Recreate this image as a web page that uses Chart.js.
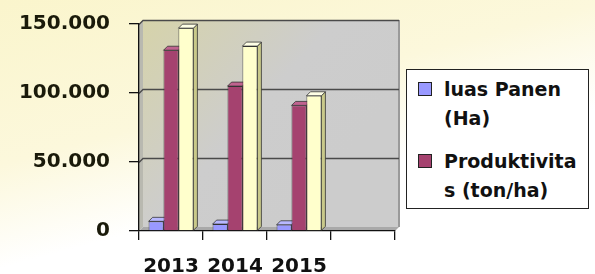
<!DOCTYPE html>
<html>
<head>
<meta charset="utf-8">
<script src="https://cdn.jsdelivr.net/npm/chart.js@4"></script>
<style>
  html, body { margin: 0; padding: 0; }
  body {
    width: 595px; height: 274px; position: relative; overflow: hidden;
    background: linear-gradient(165deg, #faf5cc 0%, #fcf8dc 38%, #ffffff 62%);
    font-family: "DejaVu Sans", sans-serif;
  }
  #wrap { position: absolute; left: 0; top: 0; width: 595px; height: 274px; }
  #legend {
    position: absolute; left: 406px; top: 69px; width: 181px; height: 138px;
    border: 1px solid #222; background: #fff;
  }
  .item { position: absolute; left: 11px; font-weight: bold; font-size: 19px; line-height: 29px; color: #111; }
  .item span.box {
    position: absolute; left: 0; top: 7px; width: 12px; height: 12px; border: 1px solid #222;
  }
  .item div { margin-left: 26px; }
</style>
</head>
<body>
<div id="wrap"><canvas id="c" width="595" height="274"></canvas></div>
<div id="legend"></div>
<script>
/* ----- data ----- */
const years = ['2013', '2014', '2015', ''];
const luasPanen = [7000, 5000, 4500, null];
const produktivitas = [131000, 105000, 91000, null];
const produksi = [147000, 134000, 98000, null];
const yTicks = [0, 50000, 100000, 150000];

const seriesNames = ['luas Panen', 'Produktivitas', 'Produksi'];
const legendLines = [['luas Panen', '(Ha)'], ['Produktivita', 's (ton/ha)']];
const colors = ['#9999ff', '#a5426f', '#ffffcc'];
const sideColors = ['#6b6bc0', '#6e2148', '#c9c98a'];
const topColors = ['#b8b8ff', '#c0638f', '#ffffe6'];

const depth = 4;

/* ----- 3D walls, grid and bar sides ----- */
const box3d = {
  id: 'box3d',
  beforeDraw(chart) {
    const { ctx, chartArea: a } = chart;
    const y = chart.scales.y;
    ctx.save();
    // back wall
    const g = ctx.createLinearGradient(a.left, a.top, a.left + 180, a.top + 160);
    g.addColorStop(0, '#d6d3aa');
    g.addColorStop(0.6, '#cdcdcd');
    g.addColorStop(1, '#cccccc');
    ctx.fillStyle = g;
    ctx.fillRect(a.left + depth, a.top - depth, a.right - a.left, a.bottom - a.top);
    // left side wall
    ctx.fillStyle = '#b9b9b0';
    ctx.beginPath();
    ctx.moveTo(a.left, a.top); ctx.lineTo(a.left + depth, a.top - depth);
    ctx.lineTo(a.left + depth, a.bottom - depth); ctx.lineTo(a.left, a.bottom);
    ctx.closePath(); ctx.fill();
    // floor
    ctx.fillStyle = '#a9a9a9';
    ctx.beginPath();
    ctx.moveTo(a.left, a.bottom); ctx.lineTo(a.left + depth, a.bottom - depth);
    ctx.lineTo(a.right + depth, a.bottom - depth); ctx.lineTo(a.right, a.bottom);
    ctx.closePath(); ctx.fill();
    // right edge shadow
    ctx.fillStyle = '#9a9a9a';
    ctx.fillRect(a.right + depth - 1, a.top - depth, 2, a.bottom - a.top);
    // grid lines on the wall
    ctx.strokeStyle = '#4a4a4a';
    ctx.lineWidth = 1.3;
    yTicks.forEach(v => {
      if (v === 0) return;
      const py = Math.round(y.getPixelForValue(v)) + 0.5;
      ctx.beginPath();
      ctx.moveTo(a.left, py);
      ctx.lineTo(a.left + depth, py - depth);
      ctx.lineTo(a.right + depth, py - depth);
      ctx.stroke();
    });
    ctx.restore();
  },
  beforeDatasetsDraw(chart) {
    const ctx = chart.ctx;
    ctx.save();
    ctx.lineWidth = 0.8;
    ctx.strokeStyle = '#333';
    chart.data.datasets.forEach((ds, i) => {
      chart.getDatasetMeta(i).data.forEach((bar, j) => {
        if (ds.data[j] == null) return;
        const { x, y, width, base } = bar.getProps(['x', 'y', 'width', 'base'], true);
        const l = x - width / 2, r = x + width / 2;
        ctx.fillStyle = sideColors[i];
        ctx.beginPath();
        ctx.moveTo(r, y); ctx.lineTo(r + depth, y - depth);
        ctx.lineTo(r + depth, base - depth); ctx.lineTo(r, base);
        ctx.closePath(); ctx.fill(); ctx.stroke();
        ctx.fillStyle = topColors[i];
        ctx.beginPath();
        ctx.moveTo(l, y); ctx.lineTo(l + depth, y - depth);
        ctx.lineTo(r + depth, y - depth); ctx.lineTo(r, y);
        ctx.closePath(); ctx.fill(); ctx.stroke();
      });
    });
    ctx.restore();
  }
};

new Chart(document.getElementById('c'), {
  type: 'bar',
  data: {
    labels: years,
    datasets: [luasPanen, produktivitas, produksi].map((d, i) => ({
      label: seriesNames[i],
      data: d,
      backgroundColor: colors[i],
      borderColor: '#333',
      borderWidth: 0.8,
      categoryPercentage: 0.7,
      barPercentage: 1
    }))
  },
  options: {
    responsive: false,
    animation: false,
    layout: { padding: { left: 0, right: 200, top: 24, bottom: 0 } },
    plugins: { legend: { display: false }, tooltip: { enabled: false } },
    scales: {
      x: {
        afterFit: s => { s.height = 43; },
        grid: { offset: true, drawOnChartArea: false, color: '#111', tickLength: 9, lineWidth: 1.3 },
        border: { color: '#111', width: 1.3 },
        ticks: { color: '#111', padding: 15, font: { family: 'DejaVu Sans', size: 20, weight: 'bold' } }
      },
      y: {
        min: 0, max: 150000,
        afterFit: s => { s.width = 139; s.paddingTop = 0; s.paddingBottom = 0; },
        afterBuildTicks: s => { s.ticks = yTicks.map(v => ({ value: v })); },
        grid: { drawOnChartArea: false, color: '#111', tickLength: 10, lineWidth: 1.3 },
        border: { color: '#111', width: 1.3 },
        ticks: {
          color: '#1a1a0a', padding: 19,
          font: { family: 'DejaVu Sans', size: 20, weight: 'bold' },
          callback: v => v.toLocaleString('de-DE')
        }
      }
    }
  },
  plugins: [box3d]
});

/* ----- legend (only the first two series show in the original) ----- */
const legend = document.getElementById('legend');
legendLines.forEach((lines, i) => {
  const el = document.createElement('div');
  el.className = 'item';
  el.style.top = (5 + i * 72) + 'px';
  el.innerHTML = `<span class="box" style="background:${colors[i]}"></span><div>${lines.join('<br>')}</div>`;
  legend.appendChild(el);
});
</script>
</body>
</html>
